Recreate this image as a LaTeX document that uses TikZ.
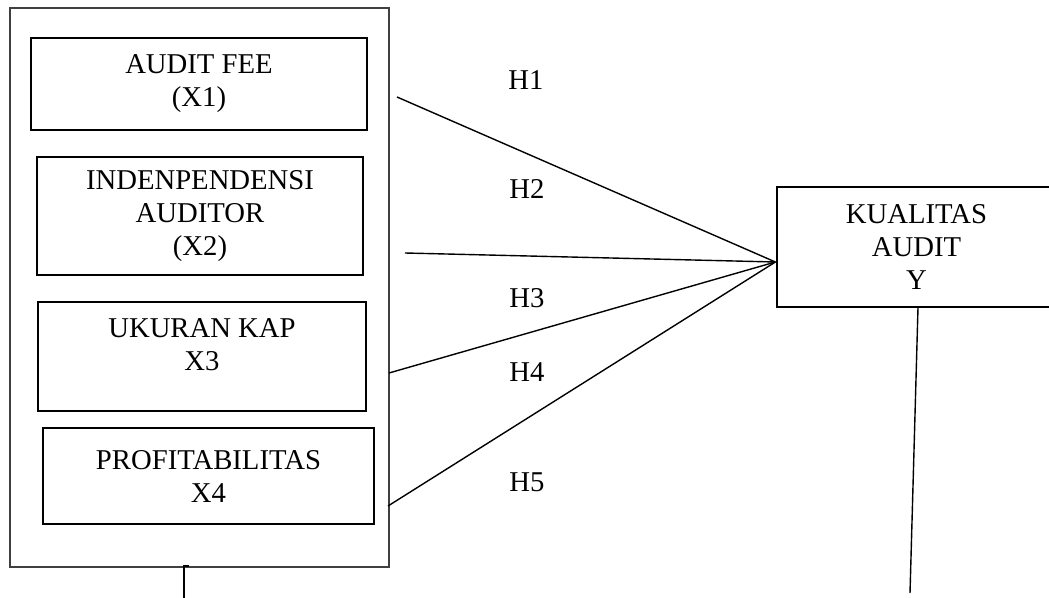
\documentclass[tikz,border=0pt]{standalone}
\usepackage{fontspec}
\setmainfont{Liberation Serif}
\begin{document}
\begin{tikzpicture}[
    x=0.5pt, y=-0.5pt,
    txt/.style={font=\fontsize{14.35}{16.5}\selectfont, align=center, inner sep=0pt},
    var/.style={txt, rectangle, draw, line width=0.6pt},
    link/.style={line width=0.7pt},
]
\useasboundingbox (0,0) rectangle (1049,598);

% Kotak luar
\node[draw=black!75, line width=0.6pt, minimum width=189.5pt, minimum height=279.5pt, inner sep=0pt] (grup) at (199.5,287.5) {};

% Variabel independen
\node[var, minimum width=168pt, minimum height=46pt] (fee) at (199,84) {AUDIT FEE\\(X1)};
\node[var, minimum width=163pt, minimum height=59pt] (indep) at (200,216) {INDENPENDENSI\\AUDITOR\\(X2)};
\node[var, minimum width=164pt, minimum height=54.5pt] (kap) at (202,356.5) {UKURAN KAP\\X3\rule[-11.5pt]{0pt}{0pt}};
\node[var, minimum width=165.5pt, minimum height=48pt] (profit) at (208.5,476) {PROFITABILITAS\\X4};

% Variabel dependen
\node[var, minimum width=139.5pt, minimum height=60pt] (kualitas) at (916.5,247) {KUALITAS\\AUDIT\\Y};

% Hipotesis
\node[txt] (h1) at (526,80) {H1};
\node[txt] (h2) at (527,189) {H2};
\node[txt] (h3) at (527,298) {H3};
\node[txt] (h4) at (527,372) {H4};
\node[txt] (h5) at (527,482) {H5};

% Garis
\coordinate (hub) at ([xshift=-0.5pt, yshift=-7.5pt]kualitas.west);
\coordinate (s1) at (397,97);
\coordinate (s2) at (405,253);
\coordinate (s3) at (389,373);
\coordinate (s4) at (388,506);
\draw[link] (s1) -- (hub);
\draw[link] (s2) -- (hub);
\draw[link] (s3) -- (hub);
\draw[link] (s4) -- (hub);

\coordinate (ujung) at (910,593);
\draw[link] ([xshift=0.75pt]kualitas.south) -- (ujung);

\coordinate (bawah) at (184,598);
\draw[link] (bawah) |- (189,566);

\end{tikzpicture}
\end{document}
